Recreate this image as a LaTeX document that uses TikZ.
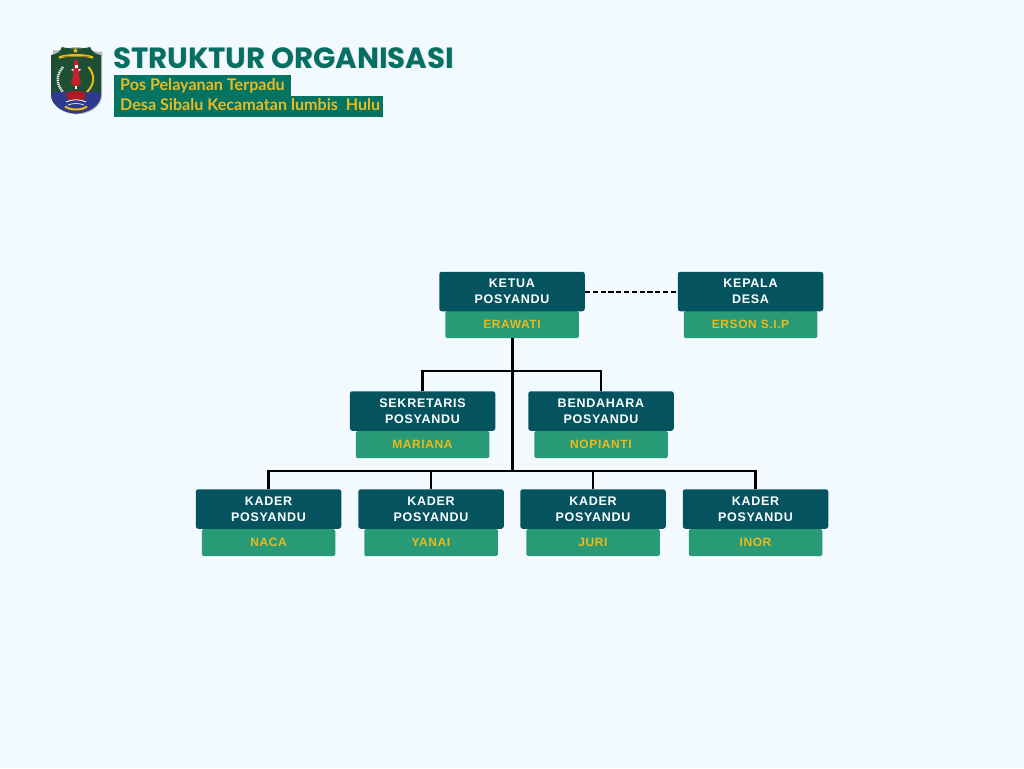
\documentclass[tikz,border=0pt]{standalone}
\usepackage{fontspec}
\setmainfont{Liberation Sans}
\newfontfamily\boxfont[LetterSpace=6]{Liberation Sans}
\newfontfamily\namefont[LetterSpace=5]{Liberation Sans}
\newfontfamily\titlefont{Poppins}
\newfontfamily\subfont{Lato}
\definecolor{bgc}{HTML}{F3FAFF}
\definecolor{darkbox}{HTML}{04535F}
\definecolor{greenbox}{HTML}{289B76}
\definecolor{goldtxt}{HTML}{EDB91C}
\definecolor{banner}{HTML}{037362}
\definecolor{titlec}{HTML}{056F63}
\definecolor{shieldg}{HTML}{1D5032}
\definecolor{shieldb}{HTML}{2E3A8C}
\definecolor{redc}{HTML}{C8202B}
\tikzset{
 headbox/.style={fill=darkbox,rounded corners=2.5pt,minimum width=145.5pt,minimum height=39.5pt,inner sep=0pt,align=center,text=white,font=\boxfont\bfseries\fontsize{12.5}{16}\selectfont},
 namebox/.style={fill=greenbox,rounded corners=1.5pt,minimum width=133.5pt,minimum height=27pt,inner sep=0pt,text=goldtxt,text height=8.6pt,text depth=1.6pt,font=\namefont\bfseries\fontsize{12}{14}\selectfont},
 conn/.style={draw=black,line width=2.1pt},
 trunk/.style={draw=black,line width=3pt},
 dashconn/.style={draw=black,line width=2pt,dash pattern=on 5.3pt off 2.5pt},
 bannerbox/.style={fill=banner,anchor=north west,inner sep=0pt},
 bannertxt/.style={text=goldtxt,anchor=base west,inner sep=0pt,font=\subfont\bfseries\fontsize{16.1}{16}\selectfont},
}
\begin{document}
\begin{tikzpicture}[x=1pt,y=-1pt]
\useasboundingbox (0,0) rectangle (1024,768);
\fill[bgc] (0,0) rectangle (1024,768);
% emblem
\fill[gray!55] (53,50) .. controls (62,52) and (68,47) .. (76.5,47) .. controls (85,47) and (91,52) .. (102,52) -- (102,95) .. controls (102,108) and (88,114) .. (76.5,114.5) .. controls (65,114) and (53,108) .. (53,95) -- cycle;
\begin{scope}
\clip (51,55) .. controls (57,54) and (60,52) .. (62,47) .. controls (68,49) and (84,49) .. (90,47) .. controls (92,52) and (95,54) .. (101,55) -- (101,94) .. controls (101,107) and (87,113) .. (76,113.5) .. controls (65,113) and (51,107) .. (51,94) -- cycle;
\fill[shieldg] (50,45) rectangle (102,115);
\fill[shieldb] (50,93) .. controls (60,91) and (92,91) .. (102,93) -- (102,115) -- (50,115) -- cycle;
\end{scope}
\fill[goldtxt] (75.5,47.8) -- (76.3,49.6) -- (78.2,49.8) -- (76.9,51) -- (77.3,52.7) -- (75.5,51.9) -- (73.7,52.7) -- (74.1,51) -- (72.8,49.8) -- (74.7,49.6) -- cycle;
\draw[goldtxt,line width=2.4pt] (59,57.5) .. controls (68,54.5) and (84,54.5) .. (93,57.5);
\fill[goldtxt!70!black] (63,56) -- (89,56) -- (89,56.6) -- (63,56.6) -- cycle;
\draw[white!90!gray,line width=2.4pt,dash pattern=on 1.2pt off .8pt] (63,67) .. controls (56,75) and (56,84) .. (63,92);
\draw[goldtxt,line width=2pt] (88.5,67) .. controls (95,75) and (95,84) .. (87,92);
\fill[white] (71,69) -- (81,69) -- (78,72) -- (74,72) -- cycle;
\draw[black!70,line width=.5pt] (69,70) -- (73,74) (83,70) -- (79,74) (63,92) -- (66,95) (86,92) -- (82,95);
\fill[redc] (74,63) .. controls (74,58) and (78,58) .. (78,63) -- (79,76) -- (81,83) .. controls (79,87) and (73,87) .. (71,83) -- (73,76) -- cycle;
\fill[white] (74.5,64.5) rectangle (77.5,67.5);
\fill[white] (75,86) rectangle (77,89);
\fill[redc!85!black] (66,96) .. controls (66,89) and (86,89) .. (86,96) -- (83,100) -- (69,100) -- cycle;
\draw[white,line width=.8pt] (66,102) .. controls (72,99) and (80,99) .. (86,102);
\draw[white!80!shieldb,line width=.8pt] (68,105) .. controls (73,103) and (79,103) .. (84,105);
\draw[goldtxt,line width=2pt] (65,106.5) .. controls (70,110.5) and (82,110.5) .. (87,106.5);
% title
\node[text=gray!45,opacity=.5,anchor=base west,inner sep=0pt,font=\titlefont\bfseries\fontsize{29.2}{30}\selectfont] (titleshadow) at (114,68.5) {STRUKTUR ORGANISASI};
\node[text=titlec,anchor=base west,inner sep=0pt,font=\titlefont\bfseries\fontsize{29.2}{30}\selectfont] (title) at (113,68) {STRUKTUR ORGANISASI};
\node[bannerbox,minimum width=177pt,minimum height=21pt] (b1) at (114,75) {};
\node[bannerbox,minimum width=269pt,minimum height=21.5pt] (b2) at (114,95.5) {};
\node[bannertxt] (t1) at (120,90) {Pos Pelayanan Terpadu};
\node[bannertxt] (t2) at (120,110) {Desa Sibalu Kecamatan lumbis\ \ Hulu};
% boxes
\node[namebox] (ketuaN) at (512,324.5) {ERAWATI};
\node[headbox] (ketua) at (512,291.5) {KETUA\\POSYANDU};
\node[namebox] (kadesN) at (750.5,324.5) {ERSON S.I.P};
\node[headbox] (kades) at (750.5,291.5) {KEPALA\\DESA};
\node[namebox] (sekN) at (422.5,444.5) {MARIANA};
\node[headbox] (sek) at (422.5,411) {SEKRETARIS\\POSYANDU};
\node[namebox] (benN) at (601,444.5) {NOPIANTI};
\node[headbox] (ben) at (601,411) {BENDAHARA\\POSYANDU};
\node[namebox] (k1N) at (268.5,542.5) {NACA};
\node[headbox] (k1) at (268.5,509) {KADER\\POSYANDU};
\node[namebox] (k2N) at (431,542.5) {YANAI};
\node[headbox] (k2) at (431,509) {KADER\\POSYANDU};
\node[namebox] (k3N) at (593,542.5) {JURI};
\node[headbox] (k3) at (593,509) {KADER\\POSYANDU};
\node[namebox] (k4N) at (755.5,542.5) {INOR};
\node[headbox] (k4) at (755.5,509) {KADER\\POSYANDU};
% connectors
\coordinate (j1) at (ketuaN.south |- 0,371);
\coordinate (j2) at (ketuaN.south |- 0,471);
\draw[dashconn] (ketua.east) -- (kades.west);
\draw[trunk] (ketuaN.south) -- (j2);
\draw[conn] (sek.north) |- (j1) -| (ben.north);
\draw[conn] (k1.north) |- (j2);
\draw[conn] (k2.north) |- (j2);
\draw[conn] (k3.north) |- (j2);
\draw[conn] (k4.north) |- (j2);
\end{tikzpicture}
\end{document}
